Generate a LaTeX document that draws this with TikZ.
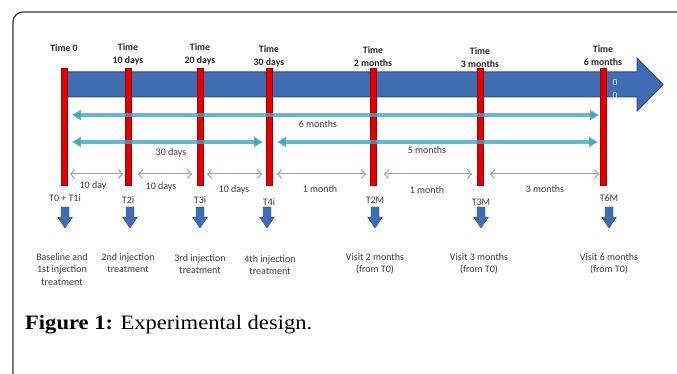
\documentclass[tikz,border=0pt]{standalone}
\usepackage{fontspec}
\setmainfont{Carlito}
\newfontfamily\capfont[FakeStretch=1.1]{Liberation Serif}
\usetikzlibrary{arrows.meta}

\definecolor{axisblue}{HTML}{3F6DB3}
\definecolor{axisedge}{HTML}{2C4E86}
\definecolor{barred}{HTML}{E30000}
\definecolor{baredge}{HTML}{A80000}
\definecolor{spanteal}{HTML}{3FA6C2}
\definecolor{stepblue}{HTML}{8CA8D4}
\definecolor{labelgray}{HTML}{3A3A3A}

\begin{document}
\begin{tikzpicture}[x=1pt, y=-1pt,
  lbl/.style={font=\fontsize{10}{12.8}\selectfont, text=labelgray, inner sep=1pt, align=center},
  timelbl/.style={lbl, font=\fontsize{9.8}{12.8}\selectfont\bfseries, text=black!85, anchor=south},
  desc/.style={lbl, anchor=north},
  axis/.style={fill=axisblue, draw=axisedge, line width=1pt},
  bar/.style={fill=barred, draw=baredge, line width=0.4pt},
  span/.style={spanteal, draw opacity=0.8, line width=3.5pt, {Triangle[length=9pt,width=10pt]}-{Triangle[length=9pt,width=10pt]}},
  gap/.style={stepblue, line width=1pt, {Straight Barb[length=4pt,width=9pt]}-{Straight Barb[length=4pt,width=9pt]}},
  drop/.style={fill=axisblue, draw=axisedge, line width=0.4pt}
]
  \useasboundingbox (0,0) rectangle (677,374);

  % -- Frame (open at right and bottom) --
  \draw[line width=1.2pt, black!80, rounded corners=10pt] (13,374) -- (13,12) -- (677,12);

  % -- Time axis --
  \filldraw[axis] (63,72) -- (637,72) -- (637,58) -- (663,84.5) -- (637,111) -- (637,97) -- (63,97) -- cycle;
  \node[font=\fontsize{9.5}{10}\selectfont, text=white!85!axisblue] (z1) at (615,82) {0};
  \node[font=\fontsize{9.5}{10}\selectfont, text=white!85!axisblue] (z2) at (615,95) {0};

  % -- Red time marks --
  \foreach \n/\x in {0/64, 1/128, 2/200, 3/269, 4/373, 5/480, 6/603} {
    \filldraw[bar] (\x-3,68) rectangle (\x+3,185);
  }

  % -- Time labels --
  \node[timelbl] (t0) at (64,53) {Time 0};
  \node[timelbl] (t10) at (128,66) {Time\\10 days};
  \node[timelbl] (t20) at (200,66) {Time\\20 days};
  \node[timelbl] (t30) at (269,68) {Time\\30 days};
  \node[timelbl] (t2m) at (373,68) {Time\\2 months};
  \node[timelbl] (t3m) at (480,69) {Time\\3 months};
  \node[timelbl] (t6m) at (603,67) {Time\\6 months};

  % -- Long spans --
  \coordinate (sixL) at (72,115);
  \coordinate (sixR) at (599,115);
  \coordinate (thirtyL) at (72,142);
  \coordinate (thirtyR) at (263,142);
  \coordinate (fiveL) at (277,142);
  \coordinate (fiveR) at (598,142);
  \draw[span] (sixL) -- (sixR);
  \draw[span] (thirtyL) -- (thirtyR);
  \draw[span] (fiveL) -- (fiveR);
  \node[lbl] (six) at (318,124) {6 months};
  \node[lbl] (thirty) at (171,153) {30 days};
  \node[lbl] (five) at (427,150) {5 months};

  % -- Intervals between visits --
  \foreach \n/\a/\b in {1/70/123, 2/138/192, 3/207/262, 4/277/366, 5/384/472, 6/490/599} {
    \coordinate (gL\n) at (\a,174);
    \coordinate (gR\n) at (\b,174);
    \draw[gap] (gL\n) -- (gR\n);
  }
  \node[lbl] (g1) at (93,186) {10 day};
  \node[lbl] (g2) at (161,187) {10 days};
  \node[lbl] (g3) at (234,190) {10 days};
  \node[lbl] (g4) at (320,189) {1 month};
  \node[lbl] (g5) at (427,190) {1 month};
  \node[lbl] (g6) at (545,189) {3 months};

  % -- Visit codes --
  \node[lbl] (v0) at (65,198) {T0 + T1i};
  \node[lbl] (v1) at (128,200) {T2i};
  \node[lbl] (v2) at (200,200) {T3i};
  \node[lbl] (v3) at (269,202) {T4i};
  \node[lbl] (v4) at (375,200) {T2M};
  \node[lbl] (v5) at (481,202) {T3M};
  \node[lbl] (v6) at (609,198) {T6M};

  % -- Down arrows --
  \foreach \x in {65, 130, 200, 267, 375, 481, 609} {
    \filldraw[drop] (\x-4,207) -- (\x+4,207) -- (\x+4,217) -- (\x+7.5,217) -- (\x,228) -- (\x-7.5,217) -- (\x-4,217) -- cycle;
  }

  % -- What happens at each visit --
  \node[desc] (d0) at (62,252) {Baseline and\\1st injection\\treatment};
  \node[desc] (d1) at (128,252) {2nd injection\\treatment};
  \node[desc] (d2) at (200,253) {3rd injection\\treatment};
  \node[desc] (d3) at (270,254) {4th injection\\treatment};
  \node[desc] (d4) at (375,252) {Visit 2 months\\(from T0)};
  \node[desc] (d5) at (479,252) {Visit 3 months\\(from T0)};
  \node[desc] (d6) at (609,252) {Visit 6 months\\(from T0)};

  % Caption
  \node[anchor=base west, inner sep=0pt, font=\capfont\fontsize{20.5}{24}\selectfont] (cap) at (25,329) {\textbf{Figure 1:} Experimental design.};

\end{tikzpicture}
\end{document}
